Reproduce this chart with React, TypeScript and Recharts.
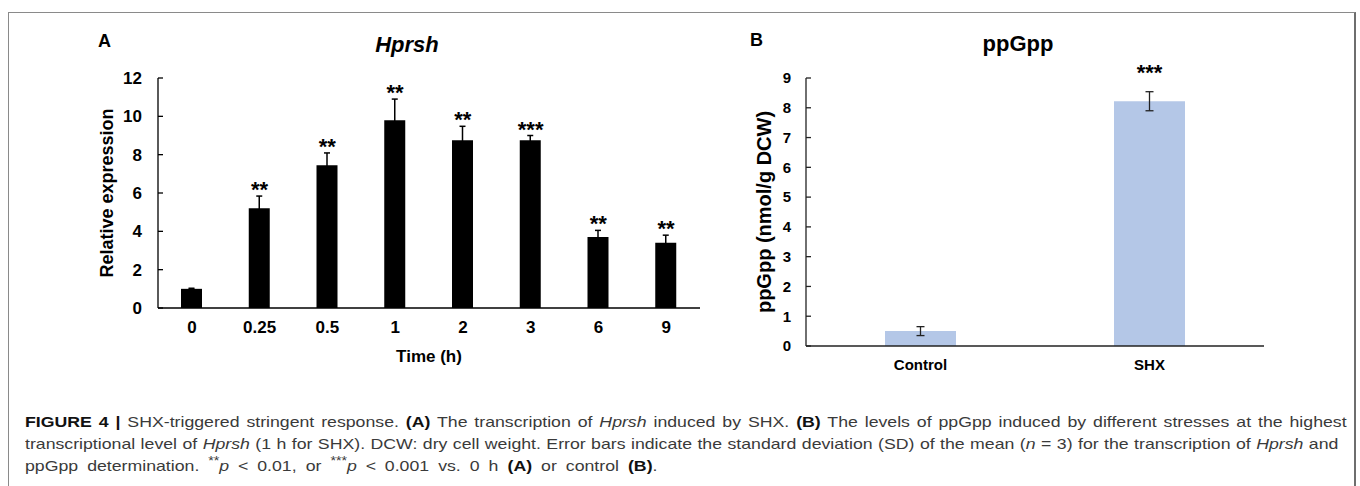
import { ComposedChart, Bar, Line, XAxis, YAxis, ErrorBar, LabelList, Label } from "recharts";

// panel A: Hprsh relative expression over time
const timePoints = ["0", "0.25", "0.5", "1", "2", "3", "6", "9"];
const expression = [1.0, 5.2, 7.45, 9.8, 8.75, 8.75, 3.7, 3.4];
const expressionSd = [0.03, 0.64, 0.64, 1.1, 0.73, 0.25, 0.35, 0.4];
const expressionSig = [null, "**", "**", "**", "**", "***", "**", "**"];
const expressionTicks = [0, 2, 4, 6, 8, 10, 12];
const timeEdges = [0, 1, 2, 3, 4, 5, 6, 7, 8];

// panel B: ppGpp levels
const groups = ["Control", "SHX"];
const ppgpp = [0.5, 8.22];
const ppgppSd = [0.15, 0.32];
const ppgppSig = [null, "***"];
const ppgppTicks = [0, 1, 2, 3, 4, 5, 6, 7, 8, 9];
const groupEdges = [0, 1, 2];

const FONT = '"Liberation Sans", Arial, sans-serif';

const dataA = timePoints.map((t, i) => ({
  t,
  value: expression[i],
  err: expressionSd[i],
  top: expression[i] + expressionSd[i],
  sig: expressionSig[i],
}));

const dataB = groups.map((g, i) => ({
  g,
  value: ppgpp[i],
  err: ppgppSd[i],
  top: ppgpp[i] + ppgppSd[i],
  sig: ppgppSig[i],
}));

const tickStyle = { fill: "#000", fontSize: 17, fontWeight: 700, fontFamily: FONT };
const tickStyleB = { fill: "#000", fontSize: 15, fontWeight: 700, fontFamily: FONT };

function HeadText({ text, left, top, size, italic, center }: any) {
  return (
    <div
      style={{
        position: "absolute",
        left: center ? left - 100 : left,
        width: center ? 200 : undefined,
        textAlign: center ? "center" : "left",
        top,
        fontSize: size,
        lineHeight: size + "px",
        fontWeight: 700,
        fontStyle: italic ? "italic" : "normal",
        fontFamily: FONT,
        color: "#000",
        whiteSpace: "nowrap",
      }}
    >
      {text}
    </div>
  );
}

const B = ({ children }: any) => <b style={{ color: "#111" }}>{children}</b>;

export default function App() {
  return (
    <div style={{ position: "absolute", left: 0, top: 0, width: 1360, height: 486, overflow: "hidden", background: "#fff" }}>
      <div
        style={{
          position: "absolute",
          left: 8,
          top: 12,
          width: 1345,
          height: 600,
          borderLeft: "1px solid #8a8a8a",
          borderTop: "1px solid #8a8a8a",
          borderRight: "2px solid #6e6e6e",
        }}
      />

      <HeadText text="A" left={98} top={32} size={18} />
      <HeadText text="Hprsh" left={407} top={34} size={22} italic center />
      <HeadText text="B" left={750} top={31} size={18} />
      <HeadText text="ppGpp" left={1018} top={33} size={22} center />

      <div style={{ position: "absolute", left: 55, top: 20 }}>
        <ComposedChart width={655} height={382} data={dataA} margin={{ top: 58, right: 10, bottom: 0, left: 0 }}>
          {/* axis line with ticks between categories */}
          <XAxis
            type="number"
            domain={[0, 8]}
            ticks={timeEdges}
            allowDataOverflow
            tick={false}
            tickSize={-5}
            height={1}
            axisLine={{ stroke: "#000", strokeWidth: 1.3 }}
            tickLine={{ stroke: "#000", strokeWidth: 1.3 }}
          />
          <XAxis
            xAxisId="cat"
            dataKey="t"
            axisLine={false}
            tickLine={false}
            tickSize={0}
            tickMargin={12}
            height={93}
            tick={tickStyle}
            interval={0}
          >
            <Label value="Time (h)" position="center" fill="#000" fontSize={17} fontWeight={700} fontFamily={FONT} />
          </XAxis>
          <YAxis
            domain={[0, 12]}
            ticks={expressionTicks}
            width={103}
            tickSize={-5}
            tickMargin={21}
            tick={tickStyle}
            axisLine={{ stroke: "#000", strokeWidth: 1.3 }}
            tickLine={{ stroke: "#000", strokeWidth: 1.3 }}
          >
            <Label value="Relative expression" angle={-90} position="center" fill="#000" fontSize={18} fontWeight={700} fontFamily={FONT} />
          </YAxis>
          <Bar xAxisId="cat" dataKey="value" fill="#000" barSize={21} isAnimationActive={false}>
            <ErrorBar dataKey="err" width={3} stroke="#000" strokeWidth={1.5} />
          </Bar>
          <Line xAxisId="cat" dataKey="top" stroke="none" dot={false} activeDot={false} isAnimationActive={false} legendType="none">
            <LabelList dataKey="sig" position="top" offset={-1} fill="#000" fontSize={22} fontWeight={700} fontFamily={FONT} />
          </Line>
        </ComposedChart>
      </div>

      <div style={{ position: "absolute", left: 722, top: 20 }}>
        <ComposedChart width={552} height={367} data={dataB} margin={{ top: 58, right: 10, bottom: 0, left: 0 }}>
          <XAxis
            type="number"
            domain={[0, 2]}
            ticks={groupEdges}
            allowDataOverflow
            tick={false}
            tickSize={-5}
            height={1}
            axisLine={{ stroke: "#222", strokeWidth: 1.3 }}
            tickLine={{ stroke: "#222", strokeWidth: 1.3 }}
          />
          <XAxis
            xAxisId="cat"
            dataKey="g"
            axisLine={false}
            tickLine={false}
            tickSize={0}
            tickMargin={12}
            height={40}
            tick={tickStyleB}
            interval={0}
          />
          <YAxis
            domain={[0, 9]}
            ticks={ppgppTicks}
            width={84}
            tickSize={-5}
            tickMargin={20}
            tick={tickStyleB}
            axisLine={{ stroke: "#222", strokeWidth: 1.3 }}
            tickLine={{ stroke: "#222", strokeWidth: 1.3 }}
          >
            <Label value="ppGpp (nmol/g DCW)" angle={-90} position="center" fill="#000" fontSize={20} fontWeight={700} fontFamily={FONT} />
          </YAxis>
          <Bar xAxisId="cat" dataKey="value" fill="#b4c7e7" barSize={71} isAnimationActive={false}>
            <ErrorBar dataKey="err" width={4} stroke="#222" strokeWidth={1.3} />
          </Bar>
          <Line xAxisId="cat" dataKey="top" stroke="none" dot={false} activeDot={false} isAnimationActive={false} legendType="none">
            <LabelList dataKey="sig" position="top" offset={12} fill="#000" fontSize={22} fontWeight={700} fontFamily={FONT} />
          </Line>
        </ComposedChart>
      </div>

      <div
        style={{
          position: "absolute",
          left: 25,
          top: 411,
          fontFamily: FONT,
          fontSize: 15,
          lineHeight: "22px",
          color: "#3a3a3a",
          whiteSpace: "nowrap",
          transform: "scaleX(1.18)",
          transformOrigin: "0 0",
        }}
      >
        <div style={{ width: 1120, textAlign: "justify", textAlignLast: "justify" }}>
          <B>FIGURE 4 |</B> SHX-triggered stringent response. <B>(A)</B> The transcription of <i>Hprsh</i> induced by SHX.{" "}
          <B>(B)</B> The levels of ppGpp induced by different stresses at the highest
        </div>
        <div style={{ width: 1113, textAlign: "justify", textAlignLast: "justify" }}>
          transcriptional level of <i>Hprsh</i> (1 h for SHX). DCW: dry cell weight. Error bars indicate the standard deviation
          (SD) of the mean (<i>n</i> = 3) for the transcription of <i>Hprsh</i> and
        </div>
        <div style={{ width: 536, textAlign: "justify", textAlignLast: "justify" }}>
          ppGpp determination. <sup style={{ fontSize: 12, lineHeight: 0 }}>**</sup>
          <i>p</i>{"\u2002<\u2002"}0.01, or <sup style={{ fontSize: 12, lineHeight: 0 }}>***</sup>
          <i>p</i>{"\u2002<\u2002"}0.001 vs. 0 h <B>(A)</B> or control <B>(B)</B>.
        </div>
      </div>
    </div>
  );
}
